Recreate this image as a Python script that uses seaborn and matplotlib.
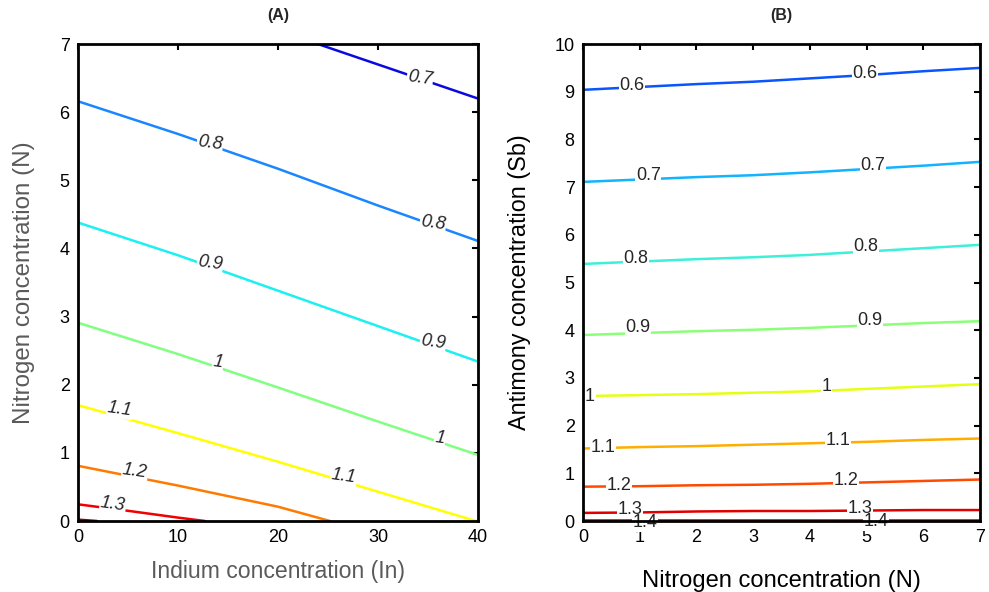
import pandas as pd
import matplotlib
matplotlib.use("Agg")
import matplotlib.pyplot as plt
import seaborn as sns

# --- Panel A: Indium (x) vs Nitrogen (y) contour lines ---
A_LEVELS = [0.7, 0.8, 0.9, 1.0, 1.1, 1.2, 1.3, 1.4]
A_LINE_X = [
    [24.0, 32.0, 40.0],
    [0, 10, 20, 30, 40],
    [0, 10, 20, 30, 40],
    [0, 10, 20, 30, 40],
    [0, 10, 20, 30, 39.8],
    [0, 10, 20, 25.2],
    [0, 5, 10, 12.7],
    [0, 1.9],
]
A_LINE_Y = [
    [7.0, 6.6, 6.2],
    [6.16, 5.68, 5.17, 4.63, 4.11],
    [4.38, 3.90, 3.38, 2.86, 2.34],
    [2.91, 2.45, 1.96, 1.46, 0.97],
    [1.70, 1.29, 0.87, 0.43, 0.0],
    [0.81, 0.52, 0.21, 0.0],
    [0.245, 0.15, 0.05, 0.0],
    [0.02, 0.0],
]
A_LABEL_TEXT = ["0.7", "0.8", "0.8", "0.9", "0.9", "1", "1", "1.1", "1.1", "1.2", "1.3"]
A_LABEL_X = [34.2, 13.2, 35.5, 13.2, 35.5, 14.0, 36.2, 4.2, 26.6, 5.7, 3.5]
A_LABEL_Y = [6.50, 5.55, 4.37, 3.78, 2.62, 2.33, 1.22, 1.64, 0.66, 0.73, 0.25]
A_COLORS = ["#0a0ae0", "#1a86ff", "#1cf0f0", "#80ff80", "#ffff00", "#ff7a00", "#f00000", "#8b0000"]

# --- Panel B: Nitrogen (x) vs Antimony (y) contour lines ---
B_LEVELS = [0.6, 0.7, 0.8, 0.9, 1.0, 1.1, 1.2, 1.3, 1.4]
B_X = [0, 1, 2, 3, 4, 5, 6, 7]
B_LINE_Y = [
    [9.04, 9.10, 9.16, 9.21, 9.28, 9.35, 9.43, 9.50],
    [7.11, 7.16, 7.21, 7.25, 7.31, 7.38, 7.45, 7.53],
    [5.39, 5.44, 5.49, 5.53, 5.58, 5.65, 5.72, 5.79],
    [3.90, 3.94, 3.98, 4.01, 4.05, 4.10, 4.15, 4.19],
    [2.62, 2.64, 2.66, 2.69, 2.72, 2.77, 2.82, 2.87],
    [1.52, 1.55, 1.57, 1.60, 1.63, 1.66, 1.70, 1.73],
    [0.72, 0.73, 0.75, 0.76, 0.78, 0.81, 0.84, 0.87],
    [0.17, 0.18, 0.20, 0.21, 0.21, 0.22, 0.23, 0.23],
    [0.02, 0.02, 0.02, 0.02, 0.02, 0.02, 0.02, 0.02],
]
B_LABEL_TEXT = ["0.6", "0.6", "0.7", "0.7", "0.8", "0.8", "0.9", "0.9", "1", "1",
                "1.1", "1.1", "1.2", "1.2", "1.3", "1.3", "1.4", "1.4"]
B_LABEL_X = [0.86, 4.97, 1.15, 5.11, 0.93, 4.99, 0.97, 5.06, 0.12, 4.29,
             0.35, 4.50, 0.63, 4.64, 0.83, 4.89, 1.09, 5.17]
B_LABEL_Y = [9.14, 9.38, 7.25, 7.46, 5.51, 5.75, 4.05, 4.20, 2.62, 2.83,
             1.54, 1.69, 0.75, 0.85, 0.24, 0.27, -0.04, -0.02]
B_COLORS = ["#0a55ff", "#12b4ff", "#3ef0d8", "#8cff78", "#e4ff12", "#ffae00", "#ff4a00", "#e00000", "#a00000"]


def long_form(levels, xs, ys):
    rows = []
    for lev, lx, ly in zip(levels, xs, ys):
        for x, y in zip(lx, ly):
            rows.append({"level": lev, "x": x, "y": y})
    return pd.DataFrame(rows)


sns.set_style("white")
plt.rcParams["font.family"] = ["Liberation Sans", "DejaVu Sans"]

fig = plt.figure(figsize=(9.89, 5.92), dpi=100)
ax1 = fig.add_axes([0.0789, 0.1199, 0.4044, 0.8057])
ax2 = fig.add_axes([0.5895, 0.1199, 0.4014, 0.8057])

df_a = long_form(A_LEVELS, A_LINE_X, A_LINE_Y)
sns.lineplot(data=df_a, x="x", y="y", hue="level", units="level", estimator=None,
             palette=dict(zip(A_LEVELS, A_COLORS)), linewidth=1.8, legend=False,
             sort=False, ax=ax1)
for t, x, y in zip(A_LABEL_TEXT, A_LABEL_X, A_LABEL_Y):
    ax1.text(x, y, t, ha="center", va="center", fontsize=13, style="italic",
             rotation=-8, zorder=5,
             bbox=dict(facecolor="white", edgecolor="none", pad=0.5))

b_xs = [B_X] * len(B_LEVELS)
df_b = long_form(B_LEVELS, b_xs, B_LINE_Y)
sns.lineplot(data=df_b, x="x", y="y", hue="level", units="level", estimator=None,
             palette=dict(zip(B_LEVELS, B_COLORS)), linewidth=1.8, legend=False,
             sort=False, ax=ax2)
for t, x, y in zip(B_LABEL_TEXT, B_LABEL_X, B_LABEL_Y):
    ax2.text(x, y, t, ha="center", va="center", fontsize=13, zorder=5,
             bbox=dict(facecolor="white", edgecolor="none", pad=0.5))

ax1.set_xlim(0, 40)
ax1.set_ylim(0, 7)
ax1.set_xticks([0, 10, 20, 30, 40])
ax1.set_yticks(range(0, 8))
ax1.set_xlabel("Indium concentration (In)", fontsize=16.6, color="#5a5a5a", labelpad=10)
ax1.set_ylabel("Nitrogen concentration (N)", fontsize=17.4, color="#5a5a5a", labelpad=18)
ax1.set_title("(A)", fontsize=11.5, fontweight="bold", pad=17)

ax2.set_xlim(0, 7)
ax2.set_ylim(0, 10)
ax2.set_xticks(range(0, 8))
ax2.set_yticks(range(0, 11))
ax2.set_xlabel("Nitrogen concentration (N)", fontsize=17.1, color="black", labelpad=17)
ax2.set_ylabel("Antimony concentration (Sb)", fontsize=16.8, color="black", labelpad=17)
ax2.set_title("(B)", fontsize=11.5, fontweight="bold", pad=17)

for ax in (ax1, ax2):
    for sp in ax.spines.values():
        sp.set_visible(True)
        sp.set_color("black")
        sp.set_linewidth(2.0)
        sp.set_zorder(6)
    ax.tick_params(direction="in", length=4, width=1.5, top=True, right=True,
                   labelsize=13, colors="black", pad=6)

fig.savefig("out.png", dpi=100, facecolor="white")
